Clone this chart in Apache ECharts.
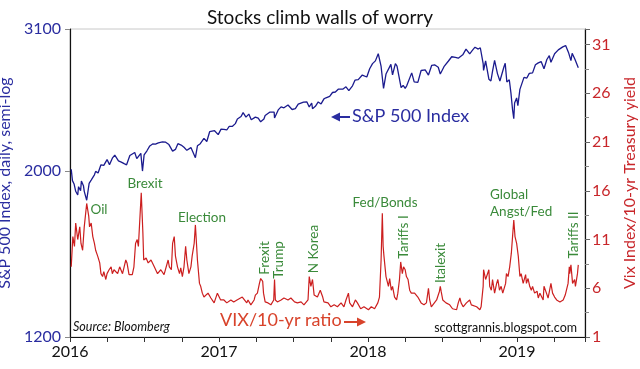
<!DOCTYPE html>
<html><head><meta charset="utf-8">
<script src="https://cdn.jsdelivr.net/npm/echarts@6/dist/echarts.min.js"></script>
<style>html,body{margin:0;padding:0;background:#fff}#c{width:640px;height:369px}</style>
</head><body><div id="c"></div>
<script>
// ---- data ----
const yearLabels = [2016, 2017, 2018, 2019];
const spxTicks = [1200, 2000, 3100];
const vixTicks = [1, 6, 11, 16, 21, 26, 31];

const spxDates = [
'2016-01-04','2016-01-07','2016-01-11','2016-01-15','2016-01-20','2016-01-22','2016-01-27','2016-01-29','2016-02-03','2016-02-05','2016-02-11','2016-02-17','2016-02-22','2016-02-26','2016-03-01','2016-03-04','2016-03-10','2016-03-17','2016-03-24','2016-04-01','2016-04-07','2016-04-14','2016-04-20','2016-04-29','2016-05-06','2016-05-13','2016-05-19','2016-05-27','2016-06-08','2016-06-13','2016-06-16','2016-06-23','2016-06-27','2016-07-01','2016-07-08','2016-07-15','2016-07-22','2016-07-29','2016-08-05','2016-08-15','2016-08-23','2016-08-31','2016-09-09','2016-09-16','2016-09-22','2016-09-30','2016-10-07','2016-10-14','2016-10-24','2016-11-04','2016-11-09','2016-11-16','2016-11-25','2016-12-02','2016-12-09','2016-12-13','2016-12-21','2016-12-30',
'2017-01-06','2017-01-13','2017-01-20','2017-01-26','2017-02-03','2017-02-10','2017-02-15','2017-02-24','2017-03-01','2017-03-08','2017-03-15','2017-03-21','2017-03-31','2017-04-07','2017-04-13','2017-04-21','2017-04-24','2017-05-05','2017-05-16','2017-05-17','2017-05-26','2017-06-02','2017-06-09','2017-06-19','2017-06-29','2017-07-07','2017-07-14','2017-07-27','2017-08-04','2017-08-10','2017-08-16','2017-08-18','2017-08-25','2017-09-01','2017-09-08','2017-09-15','2017-09-20','2017-09-29','2017-10-06','2017-10-13','2017-10-20','2017-10-31','2017-11-08','2017-11-15','2017-11-24','2017-11-30','2017-12-08','2017-12-18','2017-12-29',
'2018-01-05','2018-01-12','2018-01-19','2018-01-26','2018-02-02','2018-02-08','2018-02-14','2018-02-26','2018-03-02','2018-03-09','2018-03-13','2018-03-23','2018-03-28','2018-04-02','2018-04-06','2018-04-18','2018-04-24','2018-05-03','2018-05-11','2018-05-21','2018-05-29','2018-06-06','2018-06-13','2018-06-22','2018-06-27','2018-07-06','2018-07-17','2018-07-25','2018-08-03','2018-08-10','2018-08-21','2018-08-29','2018-09-07','2018-09-14','2018-09-20','2018-09-28','2018-10-03','2018-10-10','2018-10-11','2018-10-16','2018-10-24','2018-10-26','2018-10-29','2018-11-02','2018-11-07','2018-11-14','2018-11-20','2018-11-23','2018-11-30','2018-12-03','2018-12-07','2018-12-13','2018-12-17','2018-12-21','2018-12-24','2018-12-26','2018-12-31',
'2019-01-03','2019-01-08','2019-01-18','2019-01-25','2019-01-31','2019-02-08','2019-02-15','2019-02-22','2019-03-01','2019-03-08','2019-03-15','2019-03-21','2019-03-25','2019-04-03','2019-04-12','2019-04-23','2019-04-30','2019-05-03','2019-05-07','2019-05-13','2019-05-16','2019-05-23','2019-05-31'];
const spxValues = [
2012,1943,1923,1880,1859,1907,1883,1940,1913,1880,1829,1927,1946,1948,1978,1999,1989,2040,2036,2073,2041,2082,2102,2065,2057,2047,2040,2099,2119,2079,2077,2113,2001,2103,2130,2162,2175,2174,2183,2190,2187,2171,2128,2139,2177,2168,2153,2133,2151,2085,2163,2177,2213,2192,2259,2271,2266,2239,
2277,2275,2271,2297,2297,2316,2349,2367,2396,2363,2385,2344,2363,2355,2329,2349,2374,2399,2400,2357,2416,2439,2432,2453,2419,2425,2459,2475,2477,2438,2468,2425,2443,2476,2461,2500,2508,2519,2549,2553,2575,2575,2594,2564,2602,2648,2652,2690,2674,
2743,2786,2810,2873,2762,2581,2698,2780,2691,2786,2765,2588,2605,2582,2604,2708,2634,2630,2728,2733,2690,2772,2776,2755,2699,2760,2809,2846,2840,2833,2863,2914,2872,2905,2931,2914,2926,2786,2728,2809,2656,2658,2641,2723,2814,2702,2641,2633,2760,2790,2633,2651,2546,2417,2351,2468,2507,
2448,2574,2671,2665,2704,2708,2776,2793,2804,2743,2822,2855,2798,2873,2907,2934,2946,2946,2884,2812,2876,2822,2752];

const vixDates = [
'2016-01-04','2016-01-08','2016-01-12','2016-01-15','2016-01-20','2016-01-25','2016-01-28','2016-02-01','2016-02-05','2016-02-11','2016-02-16','2016-02-18','2016-02-22','2016-02-26','2016-03-01','2016-03-04','2016-03-09','2016-03-14','2016-03-17','2016-03-21','2016-03-24','2016-03-29','2016-04-01','2016-04-06','2016-04-11','2016-04-14','2016-04-18','2016-04-27','2016-05-02','2016-05-05','2016-05-09','2016-05-13','2016-05-17','2016-05-20','2016-05-25','2016-06-02','2016-06-06','2016-06-10','2016-06-14','2016-06-17','2016-06-24','2016-06-28','2016-06-30','2016-07-06','2016-07-11','2016-07-18','2016-07-26','2016-08-03','2016-08-11','2016-08-19','2016-08-29','2016-09-01','2016-09-06','2016-09-09','2016-09-13','2016-09-16','2016-09-21','2016-09-26','2016-09-29','2016-10-03','2016-10-07','2016-10-11','2016-10-14','2016-10-19','2016-10-24','2016-10-27','2016-11-01','2016-11-04','2016-11-09','2016-11-14','2016-11-17','2016-11-21','2016-11-25','2016-12-05','2016-12-12','2016-12-20','2016-12-28',
'2017-01-05','2017-01-13','2017-01-20','2017-01-30','2017-02-06','2017-02-14','2017-02-27','2017-03-10','2017-03-13','2017-03-20','2017-03-28','2017-03-31','2017-04-05','2017-04-10','2017-04-13','2017-04-18','2017-04-20','2017-04-24','2017-05-01','2017-05-08','2017-05-15','2017-05-17','2017-05-19','2017-05-24','2017-06-02','2017-06-09','2017-06-19','2017-06-26','2017-07-05','2017-07-12','2017-07-21','2017-07-28','2017-08-07','2017-08-10','2017-08-14','2017-08-18','2017-08-22','2017-08-25','2017-08-30','2017-09-06','2017-09-12','2017-09-15','2017-09-25','2017-10-02','2017-10-10','2017-10-18','2017-10-27','2017-11-03','2017-11-08','2017-11-14','2017-11-17','2017-11-24','2017-12-01','2017-12-06','2017-12-14','2017-12-22',
'2018-01-02','2018-01-09','2018-01-17','2018-01-25','2018-01-29','2018-02-02','2018-02-05','2018-02-07','2018-02-09','2018-02-14','2018-02-20','2018-02-23','2018-02-27','2018-03-02','2018-03-07','2018-03-12','2018-03-15','2018-03-19','2018-03-22','2018-03-26','2018-03-29','2018-04-02','2018-04-05','2018-04-09','2018-04-13','2018-04-17','2018-04-25','2018-05-03','2018-05-11','2018-05-18','2018-05-24','2018-05-29','2018-06-01','2018-06-05','2018-06-08','2018-06-18','2018-06-25','2018-06-27','2018-06-29','2018-07-03','2018-07-11','2018-07-20','2018-07-24','2018-07-27','2018-08-06','2018-08-10','2018-08-14','2018-08-17','2018-08-22','2018-08-30','2018-09-07','2018-09-11','2018-09-14','2018-09-24','2018-10-02','2018-10-05','2018-10-10','2018-10-11','2018-10-16','2018-10-24','2018-10-26','2018-10-30','2018-11-02','2018-11-07','2018-11-12','2018-11-15','2018-11-19','2018-11-23','2018-11-27','2018-12-04','2018-12-06','2018-12-10','2018-12-14','2018-12-18','2018-12-21','2018-12-24','2018-12-27','2018-12-31',
'2019-01-04','2019-01-08','2019-01-11','2019-01-16','2019-01-22','2019-01-24','2019-01-28','2019-02-01','2019-02-05','2019-02-08','2019-02-13','2019-02-19','2019-02-22','2019-02-26','2019-03-01','2019-03-06','2019-03-08','2019-03-14','2019-03-18','2019-03-22','2019-03-25','2019-03-29','2019-04-03','2019-04-08','2019-04-16','2019-04-24','2019-04-29','2019-05-02','2019-05-06','2019-05-09','2019-05-10','2019-05-13','2019-05-17','2019-05-22','2019-05-24','2019-05-29','2019-05-31'];
const vixValues = [
8.2,11.3,10.3,12.7,11.0,12.3,10.6,9.9,12.3,14.7,13.4,12.3,12.7,11.3,10.6,9.9,9.3,8.6,7.5,7.2,7.7,6.9,7.5,7.9,8.2,7.5,7.9,7.5,8.2,7.9,7.5,8.2,8.9,8.6,7.4,7.4,8.2,10.6,11.0,10.3,15.8,11.7,8.9,9.1,8.6,8.9,8.2,7.5,7.9,7.4,8.9,8.2,7.9,10.6,11.3,9.3,8.2,7.5,8.1,7.2,8.2,10.3,8.9,7.5,8.2,9.3,10.6,12.5,8.9,6.5,6.2,5.5,5.1,5.5,5.0,4.5,5.5,
4.8,4.8,4.5,4.8,4.6,4.8,5.1,4.5,4.8,4.3,4.8,5.3,5.5,6.5,7.0,6.7,5.5,4.6,4.5,4.3,4.8,6.9,4.8,4.6,4.8,5.0,4.8,5.0,4.6,4.5,4.6,4.3,4.8,7.2,6.2,6.9,5.3,5.3,5.1,5.8,5.1,4.6,4.5,4.1,4.3,4.1,4.5,4.1,4.8,5.5,4.5,4.1,4.8,4.5,3.9,4.1,
3.8,4.1,3.9,4.5,5.1,8.9,13.7,10.3,9.3,7.2,6.2,7.0,5.8,6.2,5.1,4.8,5.5,6.9,8.7,7.5,8.2,7.9,7.2,6.9,5.8,5.5,5.5,5.1,4.5,4.3,4.5,6.0,4.8,4.1,3.9,4.8,5.7,6.2,5.7,4.8,4.5,4.3,4.5,3.9,3.8,4.5,5.0,4.5,4.1,4.5,4.8,4.3,4.1,4.1,3.8,4.1,6.2,7.9,6.9,7.9,6.2,5.8,6.9,5.5,6.5,6.9,5.8,6.2,5.5,6.5,7.5,7.2,8.2,9.6,11.3,13.0,11.3,10.6,
9.3,7.2,7.5,6.5,7.4,6.5,7.0,6.2,5.8,6.2,5.5,5.7,5.0,5.5,5.3,4.8,6.2,5.5,5.0,5.1,6.5,5.5,5.1,4.8,4.6,4.8,5.3,5.5,6.5,8.2,7.5,8.4,6.5,6.9,6.2,7.5,8.4];

// ---- helpers ----
function toYear(s){const p=s.split('-').map(Number);const t=Date.UTC(p[0],p[1]-1,p[2]);const a=Date.UTC(p[0],0,1),b=Date.UTC(p[0]+1,0,1);return p[0]+(t-a)/(b-a);}
const LB=spxTicks[0], LR=Math.log(spxTicks[1]/spxTicks[0]);
const toL=v=>Math.log(v/LB)/LR;
const fromL=u=>LB*Math.exp(u*LR);

const spxData = spxDates.map((d,i)=>[toYear(d), toL(spxValues[i])]);
const vixData = vixDates.map((d,i)=>[toYear(d), vixValues[i]]);

const FONT='Lato, "Noto Sans", sans-serif';
const BLUE='#1b1b8e', BLUET='#2a2da0', RED='#cc1f1f', REDT='#c8262a', GREEN='#3a8a3a';

function gtext(text,x,y,opt){
  opt=opt||{};
  return {type:'text',x:x,y:y,rotation:opt.rot||0,z:10,
    style:{text:text,fill:opt.color||GREEN,font:(opt.style||'normal')+' '+(opt.size||13.5)+'px '+FONT,
      textAlign:opt.align||'center',textVerticalAlign:'middle',align:opt.align||'center',verticalAlign:'middle'}};
}

const chart = echarts.init(document.getElementById('c'), null, {renderer:'canvas'});
chart.setOption({
  animation:false,
  backgroundColor:'#fff',
  title:{text:'Stocks climb walls of worry',left:'center',top:3,textStyle:{fontFamily:FONT,fontSize:19,fontWeight:'normal',color:'#111'}},
  grid:{left:70,right:55,top:29,bottom:32,containLabel:false,outerBoundsMode:'none',show:true,borderColor:'#c8c8c8',borderWidth:1},
  xAxis:{type:'value',min:yearLabels[0],max:2019.456,interval:0.25,
    axisLine:{show:true,lineStyle:{color:'#111',width:1.2}},
    axisTick:{show:true,length:5,lineStyle:{color:'#333'}},
    splitLine:{show:false},
    axisLabel:{margin:7,fontFamily:FONT,fontSize:16,color:'#111',
      formatter:v=>{const r=Math.round(v);return (Math.abs(v-r)<1e-6 && yearLabels.indexOf(r)>=0)?String(r):'';}}},
  yAxis:[
    {type:'value',position:'left',min:0,max:toL(spxTicks[2]),interval:1,
      name:'S&P 500 Index, daily, semi-log',nameLocation:'middle',nameGap:50,
      nameTextStyle:{fontFamily:FONT,fontSize:16,color:BLUET},
      axisLine:{show:true,lineStyle:{color:'#111',width:1.2}},
      axisTick:{show:true,length:5,lineStyle:{color:'#888'}},
      splitLine:{show:false},
      axisLabel:{margin:9,fontFamily:FONT,fontSize:16,color:BLUET,showMaxLabel:true,showMinLabel:true,
        formatter:u=>{const v=fromL(u);for(const t of spxTicks){if(Math.abs(v/t-1)<0.005)return String(t);}return '';}}},
    {type:'value',position:'right',min:vixTicks[0],max:32.6,interval:5,
      name:'Vix Index/10-yr Treasury yield',nameLocation:'middle',nameGap:32,
      nameTextStyle:{fontFamily:FONT,fontSize:16,color:REDT},
      axisLine:{show:true,lineStyle:{color:'#111',width:1.2}},
      axisTick:{show:true,length:5,lineStyle:{color:'#666'}},
      minorTick:{show:true,splitNumber:2,length:4,lineStyle:{color:'#888'}},
      splitLine:{show:false},
      axisLabel:{margin:7,fontFamily:FONT,fontSize:16,color:REDT,
        formatter:v=>{const r=Math.round(v);return (Math.abs(v-r)<1e-6 && vixTicks.indexOf(r)>=0)?String(r):'';}}}
  ],
  series:[
    {type:'line',name:'S&P 500',yAxisIndex:0,data:spxData,showSymbol:false,symbol:'none',lineStyle:{color:BLUE,width:1.3},z:3},
    {type:'line',name:'VIX/10yr',yAxisIndex:1,data:vixData,showSymbol:false,symbol:'none',lineStyle:{color:RED,width:1.2},z:2}
  ],
  graphic:[
    gtext('Oil',99,210),
    gtext('Brexit',145,184),
    gtext('Election',202,218),
    gtext('Frexit',265,258,{rot:Math.PI/2}),
    gtext('Trump',279,260,{rot:Math.PI/2}),
    gtext('N Korea',314,249,{rot:Math.PI/2}),
    gtext('Fed/Bonds',385,203),
    gtext('Tariffs I',404,237,{rot:Math.PI/2}),
    gtext('Italexit',441,263,{rot:Math.PI/2}),
    gtext('Global',490,195,{align:'left'}),
    gtext('Angst/Fed',490,212,{align:'left'}),
    gtext('Tariffs II',574,235,{rot:Math.PI/2}),
    gtext('Source: Bloomberg',73,327,{align:'left',color:'#111',style:'italic',size:12.5}),
    gtext('scottgrannis.blogspot.com',577,328,{align:'right',color:'#111',size:12.5}),
    gtext('VIX/10-yr ratio',220,320,{align:'left',color:'#d8432b',size:18}),
    {type:'line',z:10,shape:{x1:344,y1:322,x2:358,y2:322},style:{stroke:'#d8432b',lineWidth:2}},
    {type:'polygon',z:10,shape:{points:[[357,317.5],[366,322],[357,326.5]]},style:{fill:'#d8432b'}},
    gtext('S&P 500 Index',352,116,{align:'left',color:BLUET,size:18}),
    {type:'line',z:10,shape:{x1:339,y1:117,x2:350,y2:117},style:{stroke:BLUET,lineWidth:2}},
    {type:'polygon',z:10,shape:{points:[[340,112.5],[331,117],[340,121.5]]},style:{fill:BLUET}}
  ]
});
</script></body></html>
